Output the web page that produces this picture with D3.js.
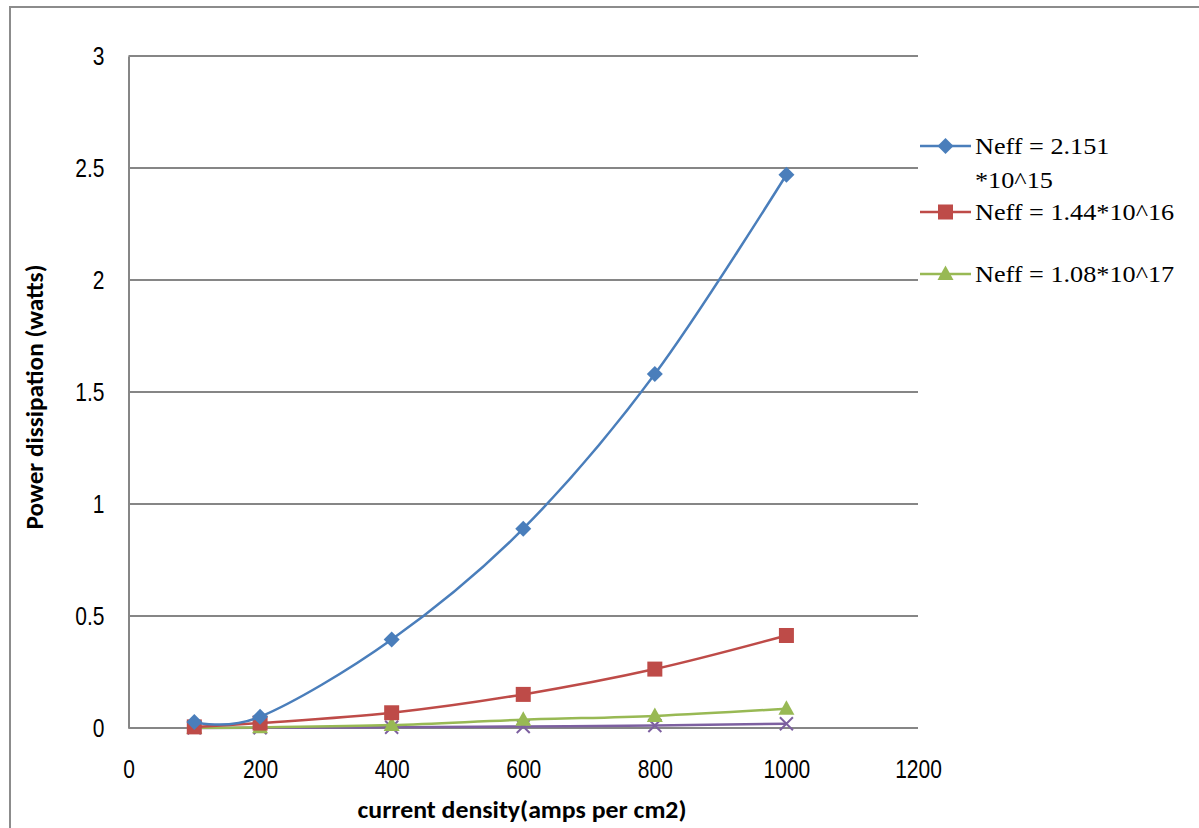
<!DOCTYPE html>
<html>
<head>
<meta charset="utf-8">
<script src="https://cdnjs.cloudflare.com/ajax/libs/d3/7.8.5/d3.min.js"></script>
<style>
  html, body { margin: 0; padding: 0; background: #fff; }
  svg { display: block; }
</style>
</head>
<body>
<svg id="chart" width="1199" height="828"></svg>
<script>
// Current density (A/cm2) samples
const currentDensity = [100, 200, 400, 600, 800, 1000];

// Power dissipation (W) for each effective doping level
const powerNeff2151e15 = [0.027, 0.05, 0.395, 0.89, 1.58, 2.47];
const powerNeff144e16  = [0.005, 0.022, 0.068, 0.15, 0.263, 0.413];
const powerNeff108e17  = [0.001, 0.003, 0.013, 0.037, 0.054, 0.086];
const powerNeff4th     = [0.0005, 0.001, 0.003, 0.007, 0.011, 0.019];

const seriesNames = ["Neff = 2.151 *10^15", "Neff = 1.44*10^16", "Neff = 1.08*10^17", ""];
const xTicks = [0, 200, 400, 600, 800, 1000, 1200];
const yTicks = [0, 0.5, 1, 1.5, 2, 2.5, 3];

const series = [
  { name: seriesNames[0], values: powerNeff2151e15, color: "#4a7ebb", marker: "diamond", legend: ["Neff = 2.151", "*10^15"] },
  { name: seriesNames[1], values: powerNeff144e16,  color: "#be4b48", marker: "square",  legend: ["Neff = 1.44*10^16"] },
  { name: seriesNames[2], values: powerNeff108e17,  color: "#98b954", marker: "triangle", legend: ["Neff = 1.08*10^17"] },
  { name: seriesNames[3], values: powerNeff4th,     color: "#7d60a0", marker: "cross",   legend: null }
];

const tickFont = "'Liberation Sans', Arial, sans-serif";
const svg = d3.select("#chart");

// condense a text element horizontally by a factor
function condense(sel, k) {
  sel.each(function () {
    const w = this.getComputedTextLength();
    d3.select(this).attr("textLength", w * k).attr("lengthAdjust", "spacingAndGlyphs");
  });
}

// outer chart frame (only left and top edges fall inside the view)
svg.append("path")
  .attr("d", "M10,828 L10,7 L1199,7")
  .attr("fill", "none").attr("stroke", "#8c8c8c").attr("stroke-width", 2);

const plot = { left: 128.5, right: 918, top: 56, bottom: 728 };
const x = d3.scaleLinear().domain([0, 1200]).range([plot.left, plot.right]);
const y = d3.scaleLinear().domain([0, 3]).range([plot.bottom, plot.top]);

// horizontal gridlines
svg.append("g").selectAll("line").data(yTicks).join("line")
  .attr("x1", plot.left).attr("x2", plot.right)
  .attr("y1", d => y(d)).attr("y2", d => y(d))
  .attr("stroke", "#868686").attr("stroke-width", 2);

// y axis
const yAxis = svg.append("g").attr("transform", `translate(${plot.left},0)`)
  .call(d3.axisLeft(y).tickValues(yTicks).tickSize(0).tickPadding(24).tickFormat(d => String(d)));
yAxis.select(".domain").attr("stroke", "#868686").attr("stroke-width", 2);
yAxis.selectAll("text").attr("font-family", tickFont)
  .attr("font-size", 25).attr("fill", "#000").call(condense, 0.84);

// x axis (labels only, line covered by zero gridline)
const xAxis = svg.append("g").attr("transform", `translate(0,${plot.bottom})`)
  .call(d3.axisBottom(x).tickValues(xTicks).tickSize(0).tickPadding(32).tickFormat(d => String(d)));
xAxis.select(".domain").remove();
xAxis.selectAll("text").attr("font-family", tickFont)
  .attr("font-size", 25).attr("fill", "#000").call(condense, 0.84);

// axis titles
svg.append("text")
  .attr("x", 522).attr("y", 818)
  .attr("text-anchor", "middle")
  .attr("font-family", "Carlito, 'Liberation Sans', sans-serif")
  .attr("font-weight", "bold").attr("font-size", 24)
  .attr("textLength", 329).attr("lengthAdjust", "spacingAndGlyphs")
  .text("current density(amps per cm2)");

svg.append("text")
  .attr("transform", "translate(43,397) rotate(-90)")
  .attr("text-anchor", "middle")
  .attr("font-family", "Carlito, 'Liberation Sans', sans-serif")
  .attr("font-weight", "bold").attr("font-size", 24)
  .attr("textLength", 265).attr("lengthAdjust", "spacingAndGlyphs")
  .text("Power dissipation (watts)");

// marker drawing helper
function drawMarker(g, type, color, cx, cy) {
  if (type === "diamond") {
    g.append("path").attr("d", `M${cx},${cy-8} L${cx+8},${cy} L${cx},${cy+8} L${cx-8},${cy} Z`).attr("fill", color);
  } else if (type === "square") {
    g.append("rect").attr("x", cx - 7.5).attr("y", cy - 7.5).attr("width", 15).attr("height", 15).attr("fill", color);
  } else if (type === "triangle") {
    g.append("path").attr("d", `M${cx},${cy-8.5} L${cx+8},${cy+6} L${cx-8},${cy+6} Z`).attr("fill", color);
  } else if (type === "cross") {
    g.append("path").attr("d", `M${cx-6.5},${cy-6.5} L${cx+6.5},${cy+6.5} M${cx+6.5},${cy-6.5} L${cx-6.5},${cy+6.5}`)
      .attr("stroke", color).attr("stroke-width", 2).attr("fill", "none");
  }
}

const line = d3.line()
  .x((d, i) => x(currentDensity[i]))
  .y(d => y(d))
  .curve(d3.curveCardinal.tension(0));

// series lines and markers
series.slice().reverse().forEach(s => {
  const g = svg.append("g");
  g.append("path").datum(s.values).attr("d", line)
    .attr("fill", "none").attr("stroke", s.color).attr("stroke-width", 2.5);
  s.values.forEach((v, i) => drawMarker(g, s.marker, s.color, x(currentDensity[i]), y(v)));
});

// legend
const legendRows = [146, 212, 274];
series.filter(s => s.legend).forEach((s, i) => {
  const g = svg.append("g");
  const ly = legendRows[i];
  g.append("line").attr("x1", 920).attr("x2", 971).attr("y1", ly).attr("y2", ly)
    .attr("stroke", s.color).attr("stroke-width", 2.5);
  drawMarker(g, s.marker, s.color, 945.5, ly);
  s.legend.forEach((t, j) => {
    g.append("text").attr("x", 975).attr("y", ly + 8 + j * 34)
      .attr("font-family", "'Liberation Serif', 'Times New Roman', serif")
      .attr("font-size", 23).attr("fill", "#000")
      .text(t)
      .call(condense, 1.14);
  });
});
</script>
</body>
</html>
